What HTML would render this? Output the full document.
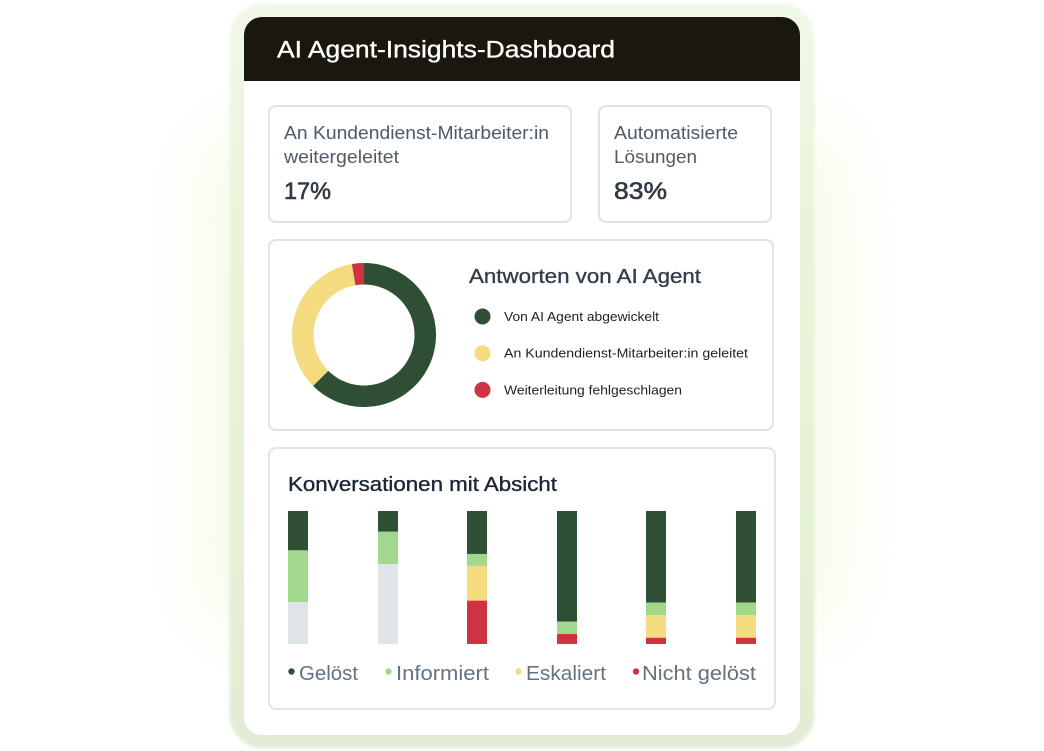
<!DOCTYPE html>
<html lang="de">
<head>
<meta charset="utf-8">
<title>AI Agent-Insights-Dashboard</title>
<style>
html,body{margin:0;padding:0;width:1044px;height:751px;overflow:hidden;background:#fff}
svg{display:block}
text{font-family:"Liberation Sans",Arial,sans-serif}
.med{stroke-width:.35px;paint-order:stroke}
.val{stroke-width:.6px;paint-order:stroke}
</style>
</head>
<body>
<svg id="root" width="1044" height="751" viewBox="0 0 1044 751" xmlns="http://www.w3.org/2000/svg">
  <defs>
    <filter id="blur" x="-50%" y="-50%" width="200%" height="200%"><feGaussianBlur stdDeviation="38"/></filter>
    <filter id="blur2" x="-20%" y="-20%" width="140%" height="140%"><feGaussianBlur stdDeviation="1.500"/></filter>
    <linearGradient id="frameGrad" x1="0" y1="0" x2="0" y2="1">
      <stop offset="0" stop-color="#f1f8e9"/>
      <stop offset=".3" stop-color="#e9f4da"/>
      <stop offset=".7" stop-color="#e5f1d5"/>
      <stop offset="1" stop-color="#e2ecd6"/>
    </linearGradient>
  </defs>

  <rect x="205" y="130" width="634" height="500" rx="40" fill="#eff9d6" opacity=".6" filter="url(#blur)"/>
  <rect x="229.500" y="3.500" width="585" height="745" rx="34" fill="url(#frameGrad)" filter="url(#blur2)"/>

  <rect x="244" y="17" width="556" height="718" rx="18" fill="#ffffff"/>
  <path d="M244 81V35a18 18 0 0 1 18-18H782a18 18 0 0 1 18 18V81Z" fill="#1a170f"/>
  <text x="277" y="57.500" font-size="24" fill="#ffffff" stroke="#ffffff" class="med" textLength="338" lengthAdjust="spacingAndGlyphs">AI Agent-Insights-Dashboard</text>

  <rect x="269" y="106" width="302" height="116" rx="7" fill="#fff" stroke="#dfe3e8" stroke-width="2"/>
  <text x="284" y="139" font-size="18" fill="#4f5b67" textLength="265" lengthAdjust="spacingAndGlyphs">An Kundendienst-Mitarbeiter:in</text>
  <text x="284" y="163" font-size="18" fill="#4f5b67" textLength="115" lengthAdjust="spacingAndGlyphs">weitergeleitet</text>
  <text x="284" y="199" font-size="24" fill="#2f3a45" stroke="#2f3a45" class="val" textLength="47" lengthAdjust="spacingAndGlyphs">17%</text>

  <rect x="599" y="106" width="172" height="116" rx="7" fill="#fff" stroke="#dfe3e8" stroke-width="2"/>
  <text x="614" y="139" font-size="18" fill="#4f5b67" textLength="124" lengthAdjust="spacingAndGlyphs">Automatisierte</text>
  <text x="614" y="163" font-size="18" fill="#4f5b67" textLength="83" lengthAdjust="spacingAndGlyphs">Lösungen</text>
  <text x="614" y="199" font-size="24" fill="#2f3a45" stroke="#2f3a45" class="val" textLength="53" lengthAdjust="spacingAndGlyphs">83%</text>

  <rect x="269" y="240" width="504" height="190" rx="7" fill="#fff" stroke="#dfe3e8" stroke-width="2"/>
  <g id="donut"></g>
  <text x="469" y="283" font-size="20" fill="#333e4a" stroke="#333e4a" class="med" textLength="232" lengthAdjust="spacingAndGlyphs">Antworten von AI Agent</text>
  <g id="donutLegend"></g>

  <rect x="269" y="448" width="506" height="261" rx="7" fill="#fff" stroke="#e1e4ea" stroke-width="2"/>
  <text x="288" y="491" font-size="20" fill="#1c2533" stroke="#1c2533" class="med" textLength="269" lengthAdjust="spacingAndGlyphs">Konversationen mit Absicht</text>
  <g id="bars"></g>
  <g id="barLegend"></g>
</svg>

<script>
// Donut chart data (percent of responses)
var donutLabels = ['Von AI Agent abgewickelt', 'An Kundendienst-Mitarbeiter:in geleitet', 'Weiterleitung fehlgeschlagen'];
var donutValues = [62.5, 34.8, 2.7];

// Stacked bar data (percent of conversations per intent)
var intents = ['Absicht 1', 'Absicht 2', 'Absicht 3', 'Absicht 4', 'Absicht 5', 'Absicht 6'];
var seriesNames = ['Gelöst', 'Informiert', 'Eskaliert', 'Nicht gelöst', 'Keine Daten'];
var solved = [29.6, 15.6, 32.3, 83.2, 68.9, 68.9];
var informed = [38.9, 24.3, 9.0, 9.3, 9.3, 9.3];
var escalated = [0, 0, 26.1, 0, 17.1, 17.1];
var unresolved = [0, 0, 32.6, 7.5, 4.7, 4.7];
var noData = [31.5, 60.1, 0, 0, 0, 0];

var NS = 'http://www.w3.org/2000/svg';
var donutColors = ['#2f4f35', '#f4db7f', '#cd3341'];
var barColors = ['#2f4f35', '#a1d88c', '#f4db7f', '#cd3341', '#dfe4e8'];

function make(tag, attrs, parent) {
  var el = document.createElementNS(NS, tag);
  for (var k in attrs) { el.setAttribute(k, attrs[k]); }
  parent.appendChild(el);
  return el;
}

/* ---------- donut ---------- */
var donutGroup = document.getElementById('donut');
var cx = 364, cy = 335, outerR = 72, innerR = 50.5;
var donutTotal = donutValues.reduce(function (a, b) { return a + b; }, 0);
function angleScale(v) { return v / donutTotal * Math.PI * 2; }
function polar(r, a) { return [cx + r * Math.sin(a), cy - r * Math.cos(a)]; }
var startAngle = 0;
donutValues.forEach(function (v, i) {
  var endAngle = startAngle + angleScale(v);
  var large = endAngle - startAngle > Math.PI ? 1 : 0;
  var p1 = polar(outerR, startAngle), p2 = polar(outerR, endAngle);
  var p3 = polar(innerR, endAngle), p4 = polar(innerR, startAngle);
  var d = 'M' + p1[0] + ' ' + p1[1] + 'A' + outerR + ' ' + outerR + ' 0 ' + large + ' 1 ' + p2[0] + ' ' + p2[1] +
          'L' + p3[0] + ' ' + p3[1] + 'A' + innerR + ' ' + innerR + ' 0 ' + large + ' 0 ' + p4[0] + ' ' + p4[1] + 'Z';
  var slice = make('path', { d: d, fill: donutColors[i] }, donutGroup);
  
  
  startAngle = endAngle;
});

/* ---------- donut legend ---------- */
var donutLegend = document.getElementById('donutLegend');
var donutLegendWidths = [155, 244, 178];
donutLabels.forEach(function (label, i) {
  var y = 316.5 + i * 36.7;
  var dot = make('circle', { cx: 482.5, cy: y, r: 8, fill: donutColors[i] }, donutLegend);
  
  
  var t = make('text', { x: 504, y: y + 4.5, 'font-size': 13, fill: '#1c2128', textLength: donutLegendWidths[i], lengthAdjust: 'spacingAndGlyphs' }, donutLegend);
  t.textContent = label;
  
  
});

/* ---------- stacked bars ---------- */
var barsGroup = document.getElementById('bars');
var plotTop = 511, plotBottom = 644, barLeft = 288, barStep = 89.6, barWidth = 20;
function xScale(i) { return Math.round(barLeft + i * barStep); }
function heightScale(v) { return v / 100 * (plotBottom - plotTop); }
var stackSeries = [solved, informed, escalated, unresolved, noData];
intents.forEach(function (name, i) {
  var y = plotTop;
  stackSeries.forEach(function (series, s) {
    var v = series[i];
    if (!v) { return; }
    var h = heightScale(v);
    var seg = make('rect', { x: xScale(i), y: y, width: barWidth, height: h, fill: barColors[s] }, barsGroup);
    
    
    y += h;
  });
});

/* ---------- bar legend ---------- */
var barLegend = document.getElementById('barLegend');
var legendDotX = [291.5, 388.5, 518.5, 636];
var legendTextX = [299, 396, 526, 642];
var legendTextW = [59, 93, 80, 114];
for (var n = 0; n < 4; n++) {
  var ld = make('circle', { cx: legendDotX[n], cy: 671.5, r: 3.2, fill: barColors[n] }, barLegend);
  
  
  var lt = make('text', { x: legendTextX[n], y: 680, 'font-size': 20, fill: '#637381', textLength: legendTextW[n], lengthAdjust: 'spacingAndGlyphs' }, barLegend);
  lt.textContent = seriesNames[n];
  
  
}
</script>
</body>
</html>
